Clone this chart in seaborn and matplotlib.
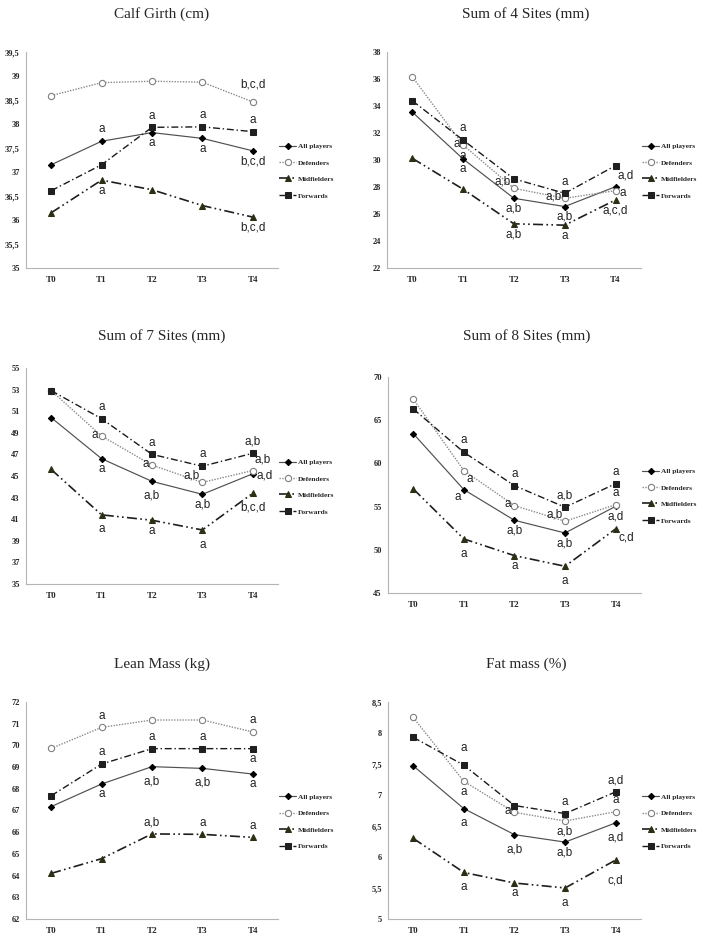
import numpy as np
import matplotlib
matplotlib.use("Agg")
import matplotlib.pyplot as plt
from matplotlib.ticker import FuncFormatter
import seaborn as sns

# time points and groups
TIMES = ["T0", "T1", "T2", "T3", "T4"]
GROUPS = ["All players", "Defenders", "Midfielders", "Forwards"]

# values
calf_all = [37.15, 37.64, 37.82, 37.70, 37.44]
calf_def = [38.59, 38.86, 38.89, 38.87, 38.46]
calf_mid = [36.15, 36.83, 36.63, 36.30, 36.06]
calf_fwd = [36.61, 37.15, 37.93, 37.94, 37.84]

sum4_all = [33.54, 30.07, 27.16, 26.55, 28.02]
sum4_def = [36.15, 31.10, 27.90, 27.16, 27.73]
sum4_mid = [30.12, 27.83, 25.27, 25.17, 27.04]
sum4_fwd = [34.38, 31.47, 28.60, 27.53, 29.58]

sum7_all = [50.40, 46.60, 44.50, 43.30, 45.20]
sum7_def = [52.90, 48.70, 46.00, 44.40, 45.50]
sum7_mid = [45.60, 41.40, 40.90, 40.00, 43.40]
sum7_fwd = [52.90, 50.30, 47.00, 45.90, 47.10]

sum8_all = [63.44, 56.96, 53.41, 51.94, 55.03]
sum8_def = [67.45, 59.16, 55.11, 53.30, 55.22]
sum8_mid = [57.04, 51.25, 49.32, 48.09, 52.41]
sum8_fwd = [66.30, 61.28, 57.42, 54.92, 57.65]

lean_all = [67.18, 68.22, 69.02, 68.94, 68.68]
lean_def = [69.86, 70.83, 71.17, 71.17, 70.62]
lean_mid = [64.10, 64.78, 65.92, 65.90, 65.76]
lean_fwd = [67.68, 69.14, 69.85, 69.85, 69.85]

fat_all = [7.47, 6.78, 6.36, 6.24, 6.55]
fat_def = [8.25, 7.22, 6.72, 6.58, 6.73]
fat_mid = [6.30, 5.75, 5.58, 5.50, 5.95]
fat_fwd = [7.93, 7.48, 6.83, 6.70, 7.05]

# significance letters: (group, time index, text, placement)
calf_letters = [
    ("All players", 1, "a", "above"), ("Midfielders", 1, "a", "below"),
    ("Forwards", 2, "a", "above"), ("All players", 2, "a", "below"),
    ("Forwards", 3, "a", "above"), ("All players", 3, "a", "below"),
    ("Defenders", 4, "b,c,d", "above2"), ("Forwards", 4, "a", "above"),
    ("All players", 4, "b,c,d", "below"), ("Midfielders", 4, "b,c,d", "below"),
]
sum4_letters = [
    ("Forwards", 1, "a", "above"), ("Defenders", 1, "a", "left"),
    ("Defenders", 1, "a", "below"), ("All players", 1, "a", "below"),
    ("Defenders", 2, "a,b", "upleft"), ("All players", 2, "a,b", "below"),
    ("Midfielders", 2, "a,b", "below"),
    ("Forwards", 3, "a", "above"), ("Defenders", 3, "a,b", "left"),
    ("All players", 3, "a,b", "below"), ("Midfielders", 3, "a", "below"),
    ("All players", 4, "a,d", "upright2"), ("Defenders", 4, "a", "rightlow"),
    ("Midfielders", 4, "a,c,d", "below"),
]
sum7_letters = [
    ("Forwards", 1, "a", "above"), ("Defenders", 1, "a", "left"),
    ("All players", 1, "a", "below"), ("Midfielders", 1, "a", "below2"),
    ("Forwards", 2, "a", "above"), ("Defenders", 2, "a", "left"),
    ("All players", 2, "a,b", "below2"), ("Midfielders", 2, "a", "below"),
    ("Forwards", 3, "a", "above"), ("Defenders", 3, "a,b", "upleft"),
    ("All players", 3, "a,b", "below"), ("Midfielders", 3, "a", "below2"),
    ("Forwards", 4, "a,b", "above"), ("Defenders", 4, "a,b", "upright2"),
    ("All players", 4, "a,d", "rightlow"), ("Midfielders", 4, "b,c,d", "below2"),
]
sum8_letters = [
    ("Forwards", 1, "a", "above"), ("Defenders", 1, "a", "downright"),
    ("All players", 1, "a", "downleft"), ("Midfielders", 1, "a", "below2"),
    ("Forwards", 2, "a", "above"), ("Defenders", 2, "a", "left"),
    ("All players", 2, "a,b", "below"), ("Midfielders", 2, "a", "below"),
    ("Forwards", 3, "a,b", "above"), ("Defenders", 3, "a,b", "upleft"),
    ("All players", 3, "a,b", "below"), ("Midfielders", 3, "a", "below2"),
    ("Forwards", 4, "a", "above"), ("Defenders", 4, "a", "above"),
    ("All players", 4, "a,d", "below"), ("Midfielders", 4, "c,d", "downright"),
]
lean_letters = [
    ("Defenders", 1, "a", "above"), ("Forwards", 1, "a", "above"),
    ("All players", 1, "a", "below"),
    ("Forwards", 2, "a", "above"), ("All players", 2, "a,b", "below2"),
    ("Midfielders", 2, "a,b", "above"),
    ("Forwards", 3, "a", "above"), ("All players", 3, "a,b", "below2"),
    ("Midfielders", 3, "a", "above"),
    ("Defenders", 4, "a", "above"), ("Forwards", 4, "a", "below"),
    ("All players", 4, "a", "below"), ("Midfielders", 4, "a", "above"),
]
fat_letters = [
    ("Forwards", 1, "a", "above2"), ("Defenders", 1, "a", "below"),
    ("All players", 1, "a", "below2"), ("Midfielders", 1, "a", "below2"),
    ("Defenders", 2, "a", "left"), ("All players", 2, "a,b", "below2"),
    ("Midfielders", 2, "a", "below"),
    ("Forwards", 3, "a", "above"), ("Defenders", 3, "a,b", "below"),
    ("All players", 3, "a,b", "below"), ("Midfielders", 3, "a", "below2"),
    ("Forwards", 4, "a,d", "above"), ("Defenders", 4, "a", "above"),
    ("All players", 4, "a,d", "below2"), ("Midfielders", 4, "c,d", "below3"),
]

# placement code -> (dx, dy in points, ha)
PLACES = {
    "above": (0, 8.5, "center"), "above2": (0, 12.5, "center"),
    "below": (0, -7.5, "center"), "below2": (0, -10.5, "center"),
    "below3": (0, -14.5, "center"),
    "left": (-2.5, 1, "right"), "right": (2.5, 1, "left"),
    "rightlow": (2.5, -1.5, "left"),
    "upleft": (-2, 5, "right"), "upright": (2, 5, "left"),
    "upright2": (1.5, 8, "left"),
    "downleft": (-2, -5, "right"), "downright": (2, -6, "left"),
}

STYLES = {
    "All players": dict(color="#505050", linestyle="-", linewidth=0.85, marker="D",
                        markersize=3.2, markerfacecolor="black", markeredgecolor="black"),
    "Defenders": dict(color="#8a8a8a", linestyle=(0, (1, 1)), linewidth=1.0, marker="o",
                      markersize=4.5, markerfacecolor="white", markeredgecolor="#808080",
                      markeredgewidth=0.8),
    "Midfielders": dict(color="#1e1e1e", linestyle=(0, (6, 2, 1, 2, 1, 2)), linewidth=1.2,
                        marker="^", markersize=4.5, markerfacecolor="#2e2e14",
                        markeredgecolor="#2e2e14"),
    "Forwards": dict(color="#1a1a1a", linestyle=(0, (5, 2, 1, 2)), linewidth=1.0, marker="s",
                     markersize=3.8, markerfacecolor="#202020", markeredgecolor="#202020"),
}

PANELS = [
    dict(title="Calf Girth (cm)", series=[calf_all, calf_def, calf_mid, calf_fwd],
         ticks=(35, 39.5, 0.5), letters=calf_letters,
         rect=[0.0365, 0.7137, 0.3539, 0.2308], tpos=(0.54, 1.175)),
    dict(title="Sum of 4 Sites (mm)", series=[sum4_all, sum4_def, sum4_mid, sum4_fwd],
         ticks=(22, 38, 2), letters=sum4_letters,
         rect=[0.5435, 0.7137, 0.3567, 0.2308], tpos=(0.547, 1.175)),
    dict(title="Sum of 7 Sites (mm)", series=[sum7_all, sum7_def, sum7_mid, sum7_fwd],
         ticks=(35, 55, 2), letters=sum7_letters,
         rect=[0.0365, 0.3761, 0.3539, 0.2308], tpos=(0.54, 1.15)),
    dict(title="Sum of 8 Sites (mm)", series=[sum8_all, sum8_def, sum8_mid, sum8_fwd],
         ticks=(45, 70, 5), letters=sum8_letters,
         rect=[0.5449, 0.3665, 0.3553, 0.2308], tpos=(0.547, 1.19)),
    dict(title="Lean Mass (kg)", series=[lean_all, lean_def, lean_mid, lean_fwd],
         ticks=(62, 72, 1), letters=lean_letters,
         rect=[0.0365, 0.0182, 0.3539, 0.2318], tpos=(0.54, 1.175)),
    dict(title="Fat mass (%)", series=[fat_all, fat_def, fat_mid, fat_fwd],
         ticks=(5, 8.5, 0.5), letters=fat_letters,
         rect=[0.5449, 0.0182, 0.3553, 0.2318], tpos=(0.547, 1.175)),
]


def comma_fmt(v, pos):
    return f"{v:g}".replace(".", ",")


def draw_panel(fig, panel):
    ax = fig.add_axes(panel["rect"])
    values = dict(zip(GROUPS, panel["series"]))
    for group in GROUPS:
        sns.lineplot(x=TIMES, y=values[group], ax=ax, label=group, sort=False,
                     **STYLES[group])

    lo, hi, step = panel["ticks"]
    ax.set_ylim(lo, hi)
    ax.set_yticks(np.arange(lo, hi + step / 2, step))
    ax.yaxis.set_major_formatter(FuncFormatter(comma_fmt))
    ax.set_xlim(-0.5, 4.5)
    ax.set_xlabel("")
    ax.set_ylabel("")

    for side in ("top", "right"):
        ax.spines[side].set_visible(False)
    for side in ("left", "bottom"):
        ax.spines[side].set_color("#b5b5b5")
        ax.spines[side].set_linewidth(0.8)

    ax.tick_params(axis="y", length=0, pad=4.5, labelsize=6)
    ax.tick_params(axis="x", length=0, pad=6, labelsize=6.5)
    for lab in ax.get_xticklabels() + ax.get_yticklabels():
        lab.set_fontweight("bold")
        lab.set_family("Liberation Serif")

    # significance letters
    for group, t, text, where in panel["letters"]:
        dx, dy, ha = PLACES[where]
        ax.annotate(text, xy=(TIMES[t], values[group][t]), xytext=(dx, dy),
                    textcoords="offset points", ha=ha, va="center",
                    fontsize=8.5, family="Liberation Sans", color="#222222")

    tx, ty = panel["tpos"]
    ax.text(tx, ty, panel["title"], transform=ax.transAxes, ha="center", va="center",
            fontsize=11, family="Liberation Serif", clip_on=False)

    ax.legend(loc="center left", bbox_to_anchor=(1.0, 0.45), frameon=False,
              handlelength=2.2, handletextpad=0.3, labelspacing=1.4,
              borderaxespad=0, borderpad=0.2, numpoints=1,
              prop=dict(family="Liberation Serif", weight="bold", size=5.3))
    return ax


def main():
    sns.set_style("white")
    plt.rcParams["font.family"] = ["Liberation Serif", "DejaVu Sans"]
    fig = plt.figure(figsize=(7.12, 9.36), dpi=100)
    for panel in PANELS:
        draw_panel(fig, panel)
    fig.savefig("out.png", dpi=100, facecolor="white")
    plt.close(fig)


if __name__ == "__main__":
    main()
